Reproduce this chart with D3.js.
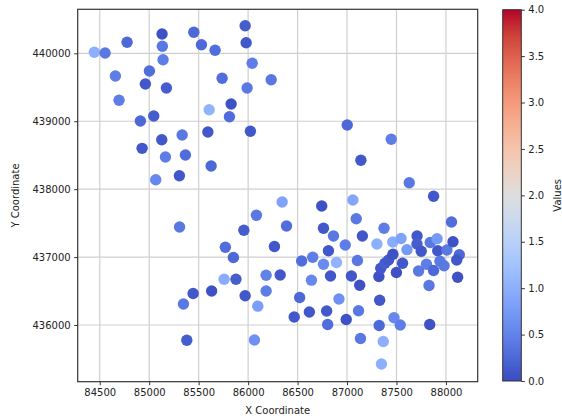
<!DOCTYPE html>
<html>
<head>
<meta charset="utf-8">
<script src="https://cdn.jsdelivr.net/npm/d3@7"></script>
<style>
  body { margin: 0; background: #fff; }
  text { font-family: "DejaVu Sans", sans-serif; }
</style>
</head>
<body>
<script>
// scatter: x / y coordinate, colour = value (coolwarm, 0..4)
const xVals = [
  84445, 84554, 84776, 85130, 85133, 85140, 85451, 85528, 85666, 85002,
  84658, 84961, 85174, 84695, 85606, 85046, 84911, 85333, 85127, 85593,
  84928, 85164, 85366, 85626, 85305, 85066, 85737, 85970, 85980, 86041,
  85990, 86233, 85828, 85811, 86023, 87002, 87447, 87140, 87629, 87875,
  87059, 86744, 86344,
  85307, 85444, 85631, 85346, 85380, 86084, 85957, 86388, 85770, 86266,
  85851, 85757, 85877, 86182, 86324, 85970, 86182, 86098, 86064, 86466,
  86521, 86541, 86653, 86762, 86893, 86640, 86833, 86762, 86863, 86982,
  86812, 86918, 86619, 86794, 86804, 86992,
  87093, 87374, 88056, 87155, 87302, 87462, 87546, 87606, 87708, 87707,
  87750, 87841, 87910, 87917, 88010, 88071, 88135, 88109, 87105, 87044,
  87128, 87322, 87341, 87383, 87420, 87464, 87561, 87499, 87803, 87939,
  87981, 87723, 87875, 88118, 87829, 87330, 87116, 87475, 87538, 87325,
  87836, 87136, 87366, 87348
];
const yVals = [
  440015, 440004, 440162, 440284, 440103, 439906, 440309, 440127, 440044, 439739,
  439666, 439548, 439489, 439308, 439170, 439077, 439003, 438797, 438728, 438841,
  438601, 438473, 438503, 438341, 438198, 438139, 439632, 440406, 440156, 439853,
  439489, 439611, 439254, 439067, 438852, 438944, 438734, 438425, 438095, 437895,
  437840, 437752, 437811,
  437443, 436464, 436501, 436309, 435775, 437615, 437394, 437458, 437145, 437156,
  436994, 436673, 436673, 436733, 436736, 436430, 436501, 436277, 435779, 436118,
  436405, 436942, 436998, 436895, 436920, 436660, 436721, 437425, 437310, 437178,
  437092, 436383, 436191, 436206, 436007, 436081,
  437565, 437425, 437516, 437310, 437193, 437222, 437274, 437109, 437310, 437193,
  437085, 437215, 437271, 437092, 437104, 437226, 437035, 436957, 436950, 436721,
  436586, 436714, 436835, 436908, 436957, 437042, 436908, 436773, 436895, 436938,
  436873, 436795, 436802, 436702, 436582, 436364, 436209, 436106, 436000, 435993,
  436007, 435801, 435757, 435426
];
const values = [
  1.0, 0.4, 0.25, 0.05, 0.4, 0.45, 0.25, 0.25, 0.3, 0.3,
  0.45, 0.1, 0.15, 0.45, 1.05, 0.15, 0.25, 0.4, 0.1, 0.1,
  0.1, 0.45, 0.3, 0.25, 0.1, 0.55, 0.3, 0.15, 0.1, 0.45,
  0.4, 0.4, 0.05, 0.3, 0.1, 0.25, 0.45, 0.1, 0.4, 0.1,
  0.9, 0.05, 0.85,
  0.4, 0.1, 0.05, 0.4, 0.15, 0.4, 0.15, 0.3, 0.3, 0.1,
  0.25, 0.95, 0.15, 0.5, 0.1, 0.1, 0.45, 0.8, 0.65, 0.1,
  0.25, 0.3, 0.45, 0.6, 1.05, 0.55, 0.1, 0.1, 0.4, 0.45,
  0.1, 0.65, 0.1, 0.1, 0.3, 0.05,
  0.4, 0.45, 0.3, 0.1, 1.0, 0.95, 0.85, 0.75, 0.1, 0.15,
  0.1, 0.4, 0.75, 0.1, 0.4, 0.05, 0.25, 0.1, 0.4, 0.1,
  0.05, 0.05, 0.1, 0.15, 0.1, 0.05, 0.1, 0.05, 0.45, 0.4,
  0.4, 0.4, 0.25, 0.05, 0.4, 0.1, 0.4, 0.55, 0.45, 0.25,
  0.05, 0.4, 1.0, 1.0
];

const xTicks = [84500, 85000, 85500, 86000, 86500, 87000, 87500, 88000];
const yTicks = [436000, 437000, 438000, 439000, 440000];
const cTicks = [0, 0.5, 1, 1.5, 2, 2.5, 3, 3.5, 4];

// coolwarm anchor colours (Moreland)
const cwStops = ['#3b4cc0', '#4d68d7', '#6282ea', '#779af7', '#8db0fe', '#a3c2ff',
  '#b8d0f9', '#ccd9ee', '#dddddd', '#ecd3c5', '#f5c4ad', '#f7b194', '#f49a7b',
  '#ec7f63', '#de604d', '#cb3e38', '#b40426'];

const W = 562, H = 419;
const plot = {left: 77.7, top: 9.3, right: 477.7, bottom: 381.7};
const cbar = {left: 502.7, right: 521.3, top: 9.7, bottom: 381};

const svg = d3.select('body').append('svg')
  .attr('width', W).attr('height', H);

const x = d3.scaleLinear().domain([84277, 88321]).range([plot.left, plot.right]);
const y = d3.scaleLinear().domain([435165, 440648]).range([plot.bottom, plot.top]);
const color = d3.scaleLinear()
  .domain(cwStops.map((d, i) => 4 * i / (cwStops.length - 1)))
  .range(cwStops)
  .interpolate(d3.interpolateRgb)
  .clamp(true);

// grid
svg.append('g').selectAll('line.vx').data(xTicks).enter().append('line')
  .attr('x1', d => x(d)).attr('x2', d => x(d))
  .attr('y1', plot.top).attr('y2', plot.bottom)
  .attr('stroke', '#cfcfcf').attr('stroke-width', 1.2);
svg.append('g').selectAll('line.hy').data(yTicks).enter().append('line')
  .attr('x1', plot.left).attr('x2', plot.right)
  .attr('y1', d => y(d)).attr('y2', d => y(d))
  .attr('stroke', '#cfcfcf').attr('stroke-width', 1.2);

// points
const pts = xVals.map((d, i) => ({x: d, y: yVals[i], v: values[i]}));
svg.append('g').selectAll('circle').data(pts).enter().append('circle')
  .attr('cx', d => x(d.x)).attr('cy', d => y(d.y))
  .attr('r', 5.7)
  .attr('fill', d => color(d.v));

// frame
svg.append('rect')
  .attr('x', plot.left).attr('y', plot.top)
  .attr('width', plot.right - plot.left).attr('height', plot.bottom - plot.top)
  .attr('fill', 'none').attr('stroke', '#333').attr('stroke-width', 1.2);

const styleAxis = g => {
  g.select('.domain').remove();
  g.selectAll('.tick line').attr('stroke', '#333');
  g.selectAll('.tick text').attr('fill', '#222')
    .style('font-family', '"DejaVu Sans", sans-serif').style('font-size', '10px');
};

svg.append('g')
  .attr('transform', `translate(0,${plot.bottom})`)
  .call(d3.axisBottom(x).tickValues(xTicks).tickFormat(d3.format('d')).tickSize(3.5).tickPadding(3.5))
  .call(styleAxis);

svg.append('g')
  .attr('transform', `translate(${plot.left},0)`)
  .call(d3.axisLeft(y).tickValues(yTicks).tickFormat(d3.format('d')).tickSize(3.5).tickPadding(3.5))
  .call(styleAxis);

svg.append('text')
  .attr('x', (plot.left + plot.right) / 2).attr('y', 414)
  .attr('text-anchor', 'middle').attr('font-size', 10).attr('fill', '#222')
  .text('X Coordinate');

svg.append('text')
  .attr('transform', `translate(19,${(plot.top + plot.bottom) / 2}) rotate(-90)`)
  .attr('text-anchor', 'middle').attr('font-size', 10).attr('fill', '#222')
  .text('Y Coordinate');

// colorbar
const grad = svg.append('defs').append('linearGradient')
  .attr('id', 'cw').attr('x1', 0).attr('y1', 1).attr('x2', 0).attr('y2', 0);
grad.selectAll('stop').data(d3.range(0, 1.0001, 0.025)).enter().append('stop')
  .attr('offset', d => d)
  .attr('stop-color', d => color(d * 4));

svg.append('rect')
  .attr('x', cbar.left).attr('y', cbar.top)
  .attr('width', cbar.right - cbar.left).attr('height', cbar.bottom - cbar.top)
  .attr('fill', 'url(#cw)').attr('stroke', '#333').attr('stroke-width', 1);

const cy = d3.scaleLinear().domain([0, 4]).range([cbar.bottom, cbar.top]);
svg.append('g')
  .attr('transform', `translate(${cbar.right},0)`)
  .call(d3.axisRight(cy).tickValues(cTicks).tickFormat(d3.format('.1f')).tickSize(3.5).tickPadding(3.5))
  .call(styleAxis);

svg.append('text')
  .attr('transform', `translate(561,${(cbar.top + cbar.bottom) / 2}) rotate(-90)`)
  .attr('text-anchor', 'middle').attr('font-size', 10).attr('fill', '#222')
  .text('Values');
</script>
</body>
</html>
